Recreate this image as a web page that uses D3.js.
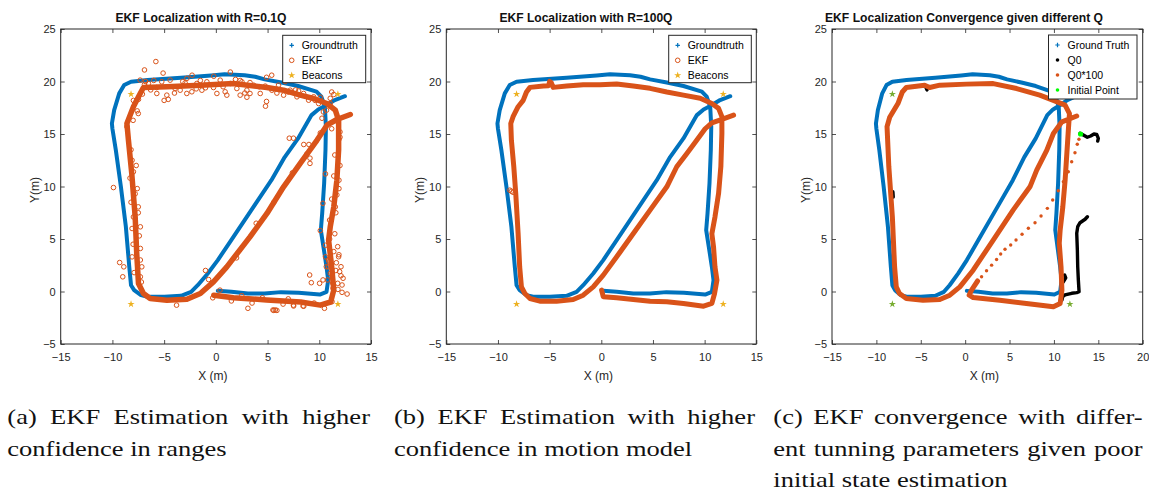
<!DOCTYPE html>
<html>
<head>
<meta charset="utf-8">
<script src="https://cdn.jsdelivr.net/npm/d3@7"></script>
<style>
  body { margin: 0; background: #fff; }
  svg text { font-family: "Liberation Sans", Arial, Helvetica, sans-serif; }
  svg g.caption text { font-family: "Liberation Serif", "Times New Roman", Times, serif; }
</style>
</head>
<body>
<svg id="fig" width="1149" height="494"></svg>
<script>
// ---------- data (metres) ----------
const groundTruth = [
  [0.19,0.06],[1.5,-0.03],[3.1,-0.2],[4.7,-0.2],[6.3,-0.06],[8.0,-0.13],[10.05,-0.29],[10.7,-0.03],
  [10.86,1.08],[10.7,2.35],[10.4,4.26],[10.15,5.85],[10.28,7.43],[10.47,10.3],[10.6,13.5],[10.64,15.7],
  [10.54,17.6],[10.2,18.55],[9.73,19.03],[7.95,19.57],[6.34,19.9],[4.72,20.2],[3.8,20.45],[2.78,20.6],
  [0.84,20.7],[-0.45,20.58],[-3.36,20.36],[-6.6,20.14],[-8.2,19.98],[-8.86,19.66],[-9.34,18.87],
  [-9.83,17.28],[-10.05,16.0],[-10.0,15.5],[-9.67,13.47],[-9.18,9.97],[-8.7,6.16],[-8.37,2.35],
  [-8.2,0.6],[-7.9,0.13],[-7.24,-0.35],[-6.6,-0.5],[-4.98,-0.5],[-3.36,-0.41],[-2.39,-0.03],
  [-1.75,0.6],[-0.78,1.72],[0.19,2.99],[1.49,4.9],[3.43,7.75],[5.37,10.6],[6.66,12.8],[7.95,14.58],
  [9.25,16.8],[9.9,17.34],[10.54,17.66],[11.5,18.23],[12.48,18.6]
];

// (a) EKF with R = 0.1Q : main track and scattered estimates
const ekfRange = [
  [-0.2,-0.35],[1.7,-0.6],[4.9,-0.8],[8.2,-1.0],[10.1,-1.3],[11.1,-1.0],[11.4,0.13],[11.2,2.35],
  [10.9,4.9],[11.06,6.16],[11.4,8.06],[11.7,10.6],[11.87,13.5],[11.87,16.3],[11.55,17.27],[10.74,17.9],
  [9.45,18.38],[8.16,18.7],[6.55,19.17],[4.94,19.43],[1.7,19.8],[-1.5,19.65],[-4.74,19.5],[-7.0,19.43],
  [-7.48,18.54],[-7.97,17.6],[-8.6,16.0],[-8.45,14.4],[-8.13,11.24],[-7.8,7.1],[-7.65,3.6],[-7.48,0.76],
  [-7.0,-0.19],[-6.35,-0.67],[-4.74,-0.83],[-2.8,-0.73],[-1.5,-0.19],[-0.23,0.92],[1.06,2.35],[3.3,5.2],
  [4.94,7.43],[6.55,9.97],[8.16,12.2],[9.77,14.4],[10.74,15.84],[11.7,16.38],[13.0,16.86]
];
const ekfRangeScatter = [
  [-5.8,21.9],[-6.9,21.1],[-5.1,20.8],[-2.3,20.6],[1.4,20.9],[4.9,20.4],[5.4,20.6],[-5.0,18.2],
  [-4.6,18.3],[4.8,17.65],[4.9,18.1],[3.0,18.5],[1.06,18.7],[7.1,14.6],[7.5,14.6],[8.5,14.0],
  [9.0,14.0],[9.1,12.7],[9.1,12.2],[-9.9,9.9],[-9.3,2.76],[-8.9,2.35],[-9.0,1.4],[-7.5,16.95],
  [-1.0,2.0],[-0.7,1.14],[-0.3,-0.6],[0.4,0.13],[-3.8,-1.3],[3.1,-1.6],[5.6,-1.8],[5.9,-1.8],
  [7.5,-1.3],[9.07,1.57],[9.23,0.84],[10.03,0.78],[10.36,1.1],[10.1,5.8],[10.35,8.4],[10.6,11.2],
  [10.6,4.4],[11.78,4.27],[11.9,10.6],[11.7,9.2],[11.55,8.06],[12.0,14.7],[12.0,15.2],[12.69,-0.24],
  [12.2,-0.08],[12.3,1.26],[12.1,2.36],[11.65,2.74],[11.87,3.31],[11.97,1.89],[10.68,2.36],[10.8,1.1],
  [11.78,0.78],[12.2,0.62],[11.23,-0.97],[11.33,0.3],[11.07,1.73],[10.94,2.84],[5.75,-1.76],[5.52,-1.76],
  [7.52,-1.38],[8.43,-1.38],[10.9,2.35],[10.6,3.3],[11.06,17.9],[11.2,19.0],[11.06,18.4],[10.26,16.5],
  [10.4,17.1],[11.4,18.76],[7.7,19.2],[7.0,19.0],[6.7,20.0],[10.1,18.5],[9.6,18.2],[10.7,17.27],
  [-8.1,12.5],[-7.97,11.4],[-7.8,9.3],[-7.5,8.06],[-7.3,6.16],[-7.3,4.1],[-7.16,2.35],[-7.3,1.4],
  [-8.1,3.3],[-7.97,7.1],[-7.97,18.2],[-8.6,15.7],[-7.48,18.3],[-6.8,20.0],[-0.2,20.5],[-1.5,20.1],
  [-2.8,20.3],[2.35,20.1],[3.3,18.86],
  [-7.32,20.13],[-6.52,19.81],[-5.71,19.43],[-5.23,19.97],[-4.42,20.13],[-3.94,19.33],[-3.45,19.17],
  [-2.97,19.87],[-2.32,19.02],[-1.84,19.81],[-1.35,19.17],[-0.87,19.97],[-0.23,19.43],[0.42,20.13],
  [0.9,19.02],[1.39,19.81],[2.03,19.33],[2.52,19.97],[3.0,19.17],[3.65,19.65],[4.29,18.86],[4.77,19.56],
  [5.42,19.17],[6.06,19.65],[6.55,18.7],[7.19,19.17],[7.84,18.54],[8.48,18.86],[8.97,18.22],[9.45,18.54],
  [9.94,17.9],[-5.71,18.86],[-4.74,18.7],[-2.81,18.86],[0.1,18.86],[2.35,18.7],
  [-7.6,17.2],[-8.0,16.3],[-8.2,13.5],[-7.7,12.0],[-8.3,10.8],[-7.6,9.8],[-8.2,8.5],[-7.5,7.5],
  [-8.1,6.0],[-7.4,5.3],[-8.0,4.5],[-7.3,3.0],[-7.9,1.8],[-7.2,0.9],
  [11.2,15.5],[11.9,14.5],[11.5,13.0],[12.0,12.0],[11.4,11.0],[11.9,9.8],[11.2,8.8],[11.6,7.5],
  [11.0,6.8],[11.5,5.5],[11.0,5.0],[11.4,3.8],[11.9,3.5],[10.9,3.0],[11.6,2.0],[12.1,1.5],[11.3,0.8],
  [11.8,0.2],[1.5,-0.9],[2.5,-0.4],[3.5,-1.1],[4.5,-0.6],[6.5,-1.2],[7.0,-0.7],[8.5,-1.4],[9.5,-1.1],
  [10.5,-1.6],[2.0,3.2],[3.9,6.5],[5.6,8.5],[7.4,11.3],[8.8,13.1],[10.1,15.1],
  [-6.0,20.1],[-3.2,20.0],[-1.0,19.4],[1.9,20.2],[3.3,19.9],[4.2,19.5],[5.9,18.9],[8.0,19.1],
  [-6.3,19.2],[-4.0,18.9],[-1.9,19.3],[0.7,19.5],[2.8,18.9],[-7.1,18.8],[-6.9,19.7]
];

// (b) EKF with R = 100Q
const ekfMotion = [
  [0.03,0.13],[0.19,-0.5],[1.49,-0.6],[3.1,-0.76],[4.72,-0.92],[6.34,-0.98],[7.95,-1.14],[9.9,-1.4],
  [10.7,-1.14],[10.96,-0.19],[11.19,1.08],[11.0,2.35],[10.86,4.26],[10.7,5.5],[11.0,7.1],[11.35,9.34],
  [11.57,11.9],[11.67,15.06],[11.67,16.65],[11.35,17.44],[10.7,17.9],[9.57,18.4],[7.95,18.7],
  [6.34,19.0],[4.72,19.35],[3.1,19.57],[1.49,19.76],[-0.13,19.7],[-1.75,19.7],[-3.36,19.57],
  [-4.66,19.44],[-4.85,19.9],[-5.0,20.0],[-5.1,19.6],[-5.6,19.57],[-6.9,19.44],[-7.24,19.0],
  [-7.56,18.2],[-8.05,17.6],[-8.54,16.65],[-8.76,16.0],[-8.7,14.4],[-8.47,11.9],[-8.28,9.34],
  [-8.05,5.5],[-7.9,2.35],[-7.73,0.44],[-7.4,-0.19],[-6.9,-0.67],[-5.95,-0.92],[-4.33,-0.92],
  [-2.72,-0.76],[-1.75,-0.35],[-0.78,0.44],[0.19,1.56],[1.49,3.3],[3.1,5.53],[4.72,7.75],[6.34,9.97],
  [7.3,11.88],[8.28,13.15],[9.25,14.42],[10.05,15.5],[10.7,16.07],[11.67,16.4],[12.8,16.8]
];
const ekfMotionScatter = [[-8.85,9.65],[-8.7,9.55],[-8.55,9.45]];

// (c) convergence from a poor initial estimate
const initialPoint = [[13.0,15.0]];
const ekfQ100Transient = [
  [12.82,14.5],[12.63,14.02],[12.37,13.22],[12.0,12.36],[11.62,11.41],[11.06,10.46],[10.49,9.6],
  [9.86,8.71],[9.26,7.92],[8.55,7.19],[7.87,6.55],[7.12,6.02],[6.41,5.45],[5.73,4.9],[5.13,4.43],
  [4.49,4.02],[4.0,3.57],[3.54,3.05],[2.98,2.51],[2.41,1.97],[1.85,1.4]
];
const ekfQ100 = [
  [1.4,1.0],[0.72,0.13],[0.45,-0.35],[0.9,-0.57],[3.9,-0.83],[6.9,-1.14],[9.94,-1.46],[10.7,-1.14],
  [10.9,0.13],[10.8,2.35],[10.6,4.6],[10.7,5.84],[11.0,8.06],[11.26,10.6],[11.6,15.05],[11.75,16.95],
  [11.26,17.75],[9.94,18.2],[8.4,18.7],[5.8,19.33],[3.16,19.8],[0.15,19.75],[-2.86,19.65],[-4.0,19.43],
  [-4.56,19.65],[-6.63,19.43],[-7.08,19.0],[-7.57,17.9],[-8.5,16.6],[-8.8,15.7],[-8.6,11.9],[-8.2,7.1],
  [-7.95,2.35],[-7.76,0.44],[-7.4,-0.19],[-6.63,-0.67],[-4.75,-0.83],[-2.86,-0.76],[-1.73,-0.35],
  [-0.6,0.44],[0.9,2.03],[3.16,4.9],[5.4,7.75],[7.3,9.97],[8.06,11.56],[9.2,13.46],[9.94,15.05],
  [10.9,16.16],[12.57,16.71]
];
// null marks a break in the Q0 track
const ekfQ0 = [
  [12.94,15.07],[13.31,14.9],[13.76,14.69],[14.14,14.81],[14.51,15.0],[14.82,14.97],[15.0,14.59],[14.93,14.33],
  null,
  [13.77,7.12],[13.51,6.88],[12.94,6.55],[12.68,6.17],[12.57,5.54],[12.64,3.95],[12.68,2.36],[12.75,1.1],
  [12.83,-0.02],[12.57,-0.11],[12.0,-0.17],[11.25,-0.33],[10.99,-0.5],[10.91,-0.81],
  null,
  [11.06,0.93],[11.33,1.3],[11.2,1.57],
  null,
  [-8.14,9.5],[-8.1,9.0],
  null,
  [-4.4,19.4],[-4.3,19.2]
];

const beacons = [[-8.2,18.8],[11.8,18.8],[-8.2,-1.2],[11.8,-1.2]];

const xTicksAB = [-15,-10,-5,0,5,10,15];
const xTicksC = [-15,-10,-5,0,5,10,15,20];
const yTicks = [-5,0,5,10,15,20,25];

const titles = [
  "EKF Localization with R=0.1Q",
  "EKF Localization with R=100Q",
  "EKF Localization Convergence given different Q"
];
const legendAB = ["Groundtruth","EKF","Beacons"];
const legendC = ["Ground Truth","Q0","Q0*100","Initial Point"];
const captions = [
  ["(a) EKF Estimation with higher","confidence in ranges"],
  ["(b) EKF Estimation with higher","confidence in motion model"],
  ["(c) EKF convergence with differ-","ent tunning parameters given poor","initial state estimation"]
];

// ---------- style ----------
const C = {
  blue: "#0072BD", orange: "#D95319", gold: "#EDB120", green: "#77AC30",
  lime: "#00FF00", black: "#000000", axis: "#262626"
};
const serifFont = "'Liberation Serif', 'Times New Roman', Times, serif";

const svg = d3.select("#fig");
const plotTop = 29, plotBottom = 344;

const panels = [
  { left: 60.7, right: 371, xDomain: [-15,15], xTicks: xTicksAB, title: titles[0],
    titleX: 201, titleW: 171, yLabelX: 35,
    legend: { x: 282.7, y: 35.3, w: 83, h: 47.4, labels: legendAB } },
  { left: 446.3, right: 756.3, xDomain: [-15,15], xTicks: xTicksAB, title: titles[1],
    titleX: 586, titleW: 173, yLabelX: 420,
    legend: { x: 668.7, y: 35.3, w: 82.6, h: 47.4, labels: legendAB } },
  { left: 832, right: 1142.7, xDomain: [-15,20], xTicks: xTicksC, title: titles[2],
    titleX: 964, titleW: 278, yLabelX: 806,
    legend: { x: 1048.5, y: 35, w: 88.5, h: 64, labels: legendC } }
];

panels.forEach((p, i) => {
  p.x = d3.scaleLinear().domain(p.xDomain).range([p.left, p.right]);
  p.y = d3.scaleLinear().domain([-5,25]).range([plotBottom, plotTop]);
  p.g = svg.append("g");
  const clipId = "clip" + i;
  svg.append("defs").append("clipPath").attr("id", clipId)
    .append("rect").attr("x", p.left).attr("y", plotTop)
    .attr("width", p.right - p.left).attr("height", plotBottom - plotTop);

  // axes: inward ticks on all four sides
  const g = p.g;
  const styleAxis = sel => {
    sel.select(".domain").remove();
    sel.selectAll(".tick line").attr("stroke", C.axis).attr("stroke-width", 0.8);
    sel.selectAll(".tick text").attr("fill", C.axis).attr("font-size", 11);
  };
  g.append("g").attr("transform", `translate(0,${plotBottom})`)
    .call(d3.axisBottom(p.x).tickValues(p.xTicks).tickSize(-4).tickPadding(9)).call(styleAxis);
  g.append("g").attr("transform", `translate(0,${plotTop})`)
    .call(d3.axisTop(p.x).tickValues(p.xTicks).tickSize(-4).tickFormat("")).call(styleAxis);
  g.append("g").attr("transform", `translate(${p.left},0)`)
    .call(d3.axisLeft(p.y).tickValues(yTicks).tickSize(-4).tickPadding(5)).call(styleAxis);
  g.append("g").attr("transform", `translate(${p.right},0)`)
    .call(d3.axisRight(p.y).tickValues(yTicks).tickSize(-4).tickFormat("")).call(styleAxis);

  p.data = g.append("g").attr("clip-path", `url(#${clipId})`);
  p.line = d3.line().defined(d => d !== null).x(d => p.x(d[0])).y(d => p.y(d[1]));
});

function track(p, pts, color, width) {
  p.data.append("path").datum(pts).attr("d", p.line)
    .attr("fill", "none").attr("stroke", color).attr("stroke-width", width)
    .attr("stroke-linejoin", "round").attr("stroke-linecap", "round");
}
function openCircles(p, pts, color) {
  p.data.append("g").selectAll("circle").data(pts).join("circle")
    .attr("cx", d => p.x(d[0])).attr("cy", d => p.y(d[1])).attr("r", 2.3)
    .attr("fill", "none").attr("stroke", color).attr("stroke-width", 1);
}
function dots(p, pts, color, r) {
  p.data.append("g").selectAll("circle").data(pts).join("circle")
    .attr("cx", d => p.x(d[0])).attr("cy", d => p.y(d[1])).attr("r", r).attr("fill", color);
}
const starPath = d3.symbol().type(d3.symbolStar).size(16)();
function stars(p, pts, color) {
  p.data.append("g").selectAll("path").data(pts).join("path")
    .attr("transform", d => `translate(${p.x(d[0])},${p.y(d[1])})`)
    .attr("d", starPath).attr("fill", color);
}

// (a)
track(panels[0], groundTruth, C.blue, 4);
track(panels[0], ekfRange, C.orange, 5.5);
openCircles(panels[0], ekfRangeScatter, C.orange);
stars(panels[0], beacons, C.gold);
// (b)
track(panels[1], groundTruth, C.blue, 4);
track(panels[1], ekfMotion, C.orange, 5);
openCircles(panels[1], ekfMotionScatter, C.orange);
stars(panels[1], beacons, C.gold);
// (c)
track(panels[2], groundTruth, C.blue, 4);
track(panels[2], ekfQ0, C.black, 3.4);
dots(panels[2], ekfQ100Transient, C.orange, 1.7);
track(panels[2], ekfQ100, C.orange, 5);
stars(panels[2], beacons, C.green);
dots(panels[2], initialPoint, C.lime, 2.6);

// frames, titles, labels, legends
panels.forEach((p, i) => {
  const g = p.g;
  g.append("rect").attr("x", p.left).attr("y", plotTop)
    .attr("width", p.right - p.left).attr("height", plotBottom - plotTop)
    .attr("fill", "none").attr("stroke", C.axis).attr("stroke-width", 1);

  g.append("text").attr("x", p.titleX).attr("y", 21.5).attr("text-anchor", "middle")
    .attr("font-size", 12).attr("font-weight", "bold").attr("fill", "#111")
    .attr("textLength", p.titleW).attr("lengthAdjust", "spacingAndGlyphs").text(p.title);

  g.append("text").attr("x", (p.left + p.right) / 2 - 3).attr("y", 380)
    .attr("text-anchor", "middle").attr("font-size", 12).attr("fill", C.axis).text("X (m)");
  g.append("text").attr("transform", `translate(${p.yLabelX + 4},190) rotate(-90)`)
    .attr("text-anchor", "middle").attr("font-size", 12).attr("fill", C.axis).text("Y(m)");

  const L = p.legend;
  const lg = g.append("g");
  lg.append("rect").attr("x", L.x).attr("y", L.y).attr("width", L.w).attr("height", L.h)
    .attr("fill", "#fff").attr("stroke", C.axis).attr("stroke-width", 1);
  const rowY = k => L.y + 10 + k * 15;
  L.labels.forEach((lab, k) => {
    const mx = L.x + 9, my = rowY(k);
    lg.append("text").attr("x", L.x + 19).attr("y", my + 3.8).attr("font-size", 10.5)
      .attr("fill", "#000").text(lab);
    const m = lg.append("g").attr("transform", `translate(${mx},${my})`);
    if (k === 0) {
      m.append("path").attr("d", "M-2.2,0H2.2M0,-2.2V2.2").attr("stroke", C.blue).attr("stroke-width", 1.2);
    } else if (i < 2 && k === 1) {
      m.append("circle").attr("r", 2.3).attr("fill", "none").attr("stroke", C.orange).attr("stroke-width", 1);
    } else if (i < 2 && k === 2) {
      m.append("path").attr("d", starPath).attr("fill", C.gold);
    } else {
      const col = [null, C.black, C.orange, C.lime][k];
      m.append("circle").attr("r", 1.8).attr("fill", col);
    }
  });
});

// ---------- captions (justified serif) ----------
const captionCols = [[7.3, 370], [394, 755], [773.3, 1142.7]];
const captionBase = [424, 455.5, 487];
const capSize = 21;
const capG = svg.append("g").attr("class", "caption");
const probe = capG.append("text").attr("font-family", serifFont).style("font-family", serifFont)
  .attr("font-size", capSize).attr("x", -1000).attr("y", -1000);
const measure = s => { probe.text(s); return probe.node().getComputedTextLength(); };
const spaceW = measure("a a") - measure("aa");
const capStretch = 219.4 / measure(captions[0][1]);

captions.forEach((lines, ci) => {
  const [x0, x1] = captionCols[ci];
  lines.forEach((line, li) => {
    const words = line.split(" ");
    const widths = words.map(measure);
    const last = li === lines.length - 1;
    const target = (x1 - x0) / capStretch;
    const gap = last ? spaceW : (target - d3.sum(widths)) / (words.length - 1);
    const lg = capG.append("g")
      .attr("transform", `translate(${x0},${captionBase[li]}) scale(${capStretch},1)`);
    let pos = 0;
    words.forEach((w, k) => {
      lg.append("text").attr("x", pos).attr("y", 0)
        .attr("font-family", serifFont).style("font-family", serifFont)
        .attr("font-size", capSize).attr("fill", "#111").text(w);
      pos += widths[k] + gap;
    });
  });
});
probe.remove();
</script>
</body>
</html>
